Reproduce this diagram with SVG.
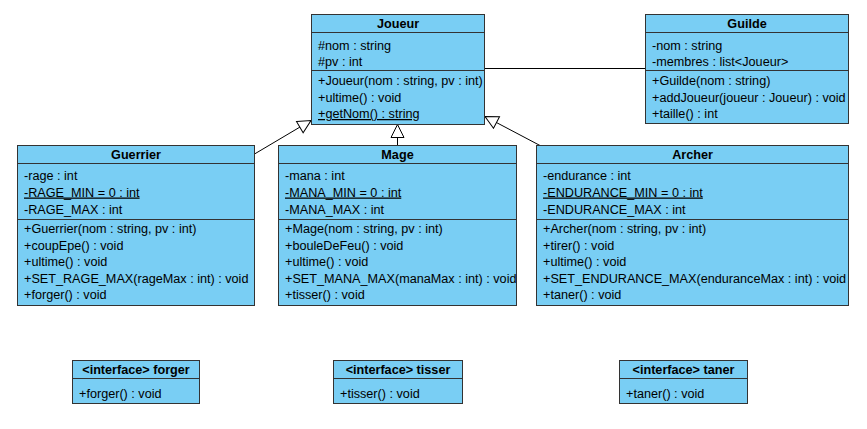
<svg xmlns="http://www.w3.org/2000/svg" width="867" height="429" viewBox="0 0 867 429">
<style>
.box{fill:#79cef4;stroke:#333;stroke-width:1}
.sep{stroke:#333;stroke-width:1}
text{font-family:"Liberation Sans",Arial,sans-serif;font-size:12.65px;fill:#000}
.t{font-weight:bold;text-anchor:middle}
.u{text-decoration:underline}
.c{stroke:#000;stroke-width:1;fill:none}
</style>
<defs>
<marker id="inh" markerUnits="userSpaceOnUse" viewBox="0 0 15 15" markerWidth="15" markerHeight="15" refX="14" refY="7.5" orient="auto">
<path d="M1,1 L14,7.5 L1,14 Z" fill="#fff" stroke="#000" stroke-width="1"/>
</marker>
<clipPath id="clipMage"><rect x="278.5" y="145.5" width="238" height="160"/></clipPath>
</defs>
<rect width="867" height="429" fill="#fff"/>
<g id="connectors">
<line class="c" x1="484.5" y1="68.5" x2="645.5" y2="68.5"/>
<line class="c" x1="254.5" y1="154" x2="311" y2="120.5" marker-end="url(#inh)"/>
<line class="c" x1="397.5" y1="145.5" x2="397.5" y2="124.5" marker-end="url(#inh)"/>
<line class="c" x1="540" y1="145.5" x2="485" y2="116.5" marker-end="url(#inh)"/>
</g>
<g id="joueur">
<rect class="box" x="311.5" y="14.5" width="173" height="110"/>
<line class="sep" x1="311.5" y1="32.5" x2="484.5" y2="32.5"/>
<line class="sep" x1="311.5" y1="70.5" x2="484.5" y2="70.5"/>
<text class="t" x="398" y="27.5">Joueur</text>
<text x="318" y="49.5">#nom : string</text>
<text x="318" y="66">#pv : int</text>
<text x="318" y="85">+Joueur(nom : string, pv : int)</text>
<text x="318" y="101.5">+ultime() : void</text>
<text class="u" x="318" y="118">+getNom() : string</text>
</g>
<g id="guilde">
<rect class="box" x="645.5" y="14.5" width="203" height="109"/>
<line class="sep" x1="645.5" y1="32.5" x2="848.5" y2="32.5"/>
<line class="sep" x1="645.5" y1="70.5" x2="848.5" y2="70.5"/>
<text class="t" x="747" y="27.5">Guilde</text>
<text x="652" y="49.5">-nom : string</text>
<text x="652" y="66">-membres : list&lt;Joueur&gt;</text>
<text x="652" y="85">+Guilde(nom : string)</text>
<text x="652" y="101.5">+addJoueur(joueur : Joueur) : void</text>
<text x="652" y="118">+taille() : int</text>
</g>
<g id="guerrier">
<rect class="box" x="17.5" y="145.5" width="237" height="160"/>
<line class="sep" x1="17.5" y1="163.5" x2="254.5" y2="163.5"/>
<line class="sep" x1="17.5" y1="219.5" x2="254.5" y2="219.5"/>
<text class="t" x="136" y="158.5">Guerrier</text>
<text x="24" y="179.5">-rage : int</text>
<text class="u" x="24" y="196.5">-RAGE_MIN = 0 : int</text>
<text x="24" y="214">-RAGE_MAX : int</text>
<text x="24" y="233">+Guerrier(nom : string, pv : int)</text>
<text x="24" y="249.5">+coupEpe() : void</text>
<text x="24" y="266">+ultime() : void</text>
<text x="24" y="282.5">+SET_RAGE_MAX(rageMax : int) : void</text>
<text x="24" y="299">+forger() : void</text>
</g>
<g id="mage">
<rect class="box" x="278.5" y="145.5" width="238" height="160"/>
<line class="sep" x1="278.5" y1="163.5" x2="516.5" y2="163.5"/>
<line class="sep" x1="278.5" y1="219.5" x2="516.5" y2="219.5"/>
<text class="t" x="397.5" y="158.5">Mage</text>
<g clip-path="url(#clipMage)">
<text x="285" y="179.5">-mana : int</text>
<text class="u" x="285" y="196.5">-MANA_MIN = 0 : int</text>
<text x="285" y="214">-MANA_MAX : int</text>
<text x="285" y="233">+Mage(nom : string, pv : int)</text>
<text x="285" y="249.5">+bouleDeFeu() : void</text>
<text x="285" y="266">+ultime() : void</text>
<text x="285" y="282.5">+SET_MANA_MAX(manaMax : int) : void</text>
<text x="285" y="299">+tisser() : void</text>
</g>
</g>
<g id="archer">
<rect class="box" x="536.5" y="145.5" width="312" height="160"/>
<line class="sep" x1="536.5" y1="163.5" x2="848.5" y2="163.5"/>
<line class="sep" x1="536.5" y1="219.5" x2="848.5" y2="219.5"/>
<text class="t" x="692.5" y="158.5">Archer</text>
<text x="543" y="179.5">-endurance : int</text>
<text class="u" x="543" y="196.5">-ENDURANCE_MIN = 0 : int</text>
<text x="543" y="214">-ENDURANCE_MAX : int</text>
<text x="543" y="233">+Archer(nom : string, pv : int)</text>
<text x="543" y="249.5">+tirer() : void</text>
<text x="543" y="266">+ultime() : void</text>
<text x="543" y="282.5">+SET_ENDURANCE_MAX(enduranceMax : int) : void</text>
<text x="543" y="299">+taner() : void</text>
</g>
<g id="forger">
<rect class="box" x="72.5" y="360.5" width="127" height="43"/>
<line class="sep" x1="72.5" y1="378.5" x2="199.5" y2="378.5"/>
<text class="t" x="136" y="373.5">&lt;interface&gt; forger</text>
<text x="79" y="397.5">+forger() : void</text>
</g>
<g id="tisser">
<rect class="box" x="333.5" y="360.5" width="129" height="43"/>
<line class="sep" x1="333.5" y1="378.5" x2="462.5" y2="378.5"/>
<text class="t" x="398" y="373.5">&lt;interface&gt; tisser</text>
<text x="340" y="397.5">+tisser() : void</text>
</g>
<g id="taner">
<rect class="box" x="619.5" y="360.5" width="128" height="43"/>
<line class="sep" x1="619.5" y1="378.5" x2="747.5" y2="378.5"/>
<text class="t" x="683.5" y="373.5">&lt;interface&gt; taner</text>
<text x="626" y="397.5">+taner() : void</text>
</g>
</svg>
